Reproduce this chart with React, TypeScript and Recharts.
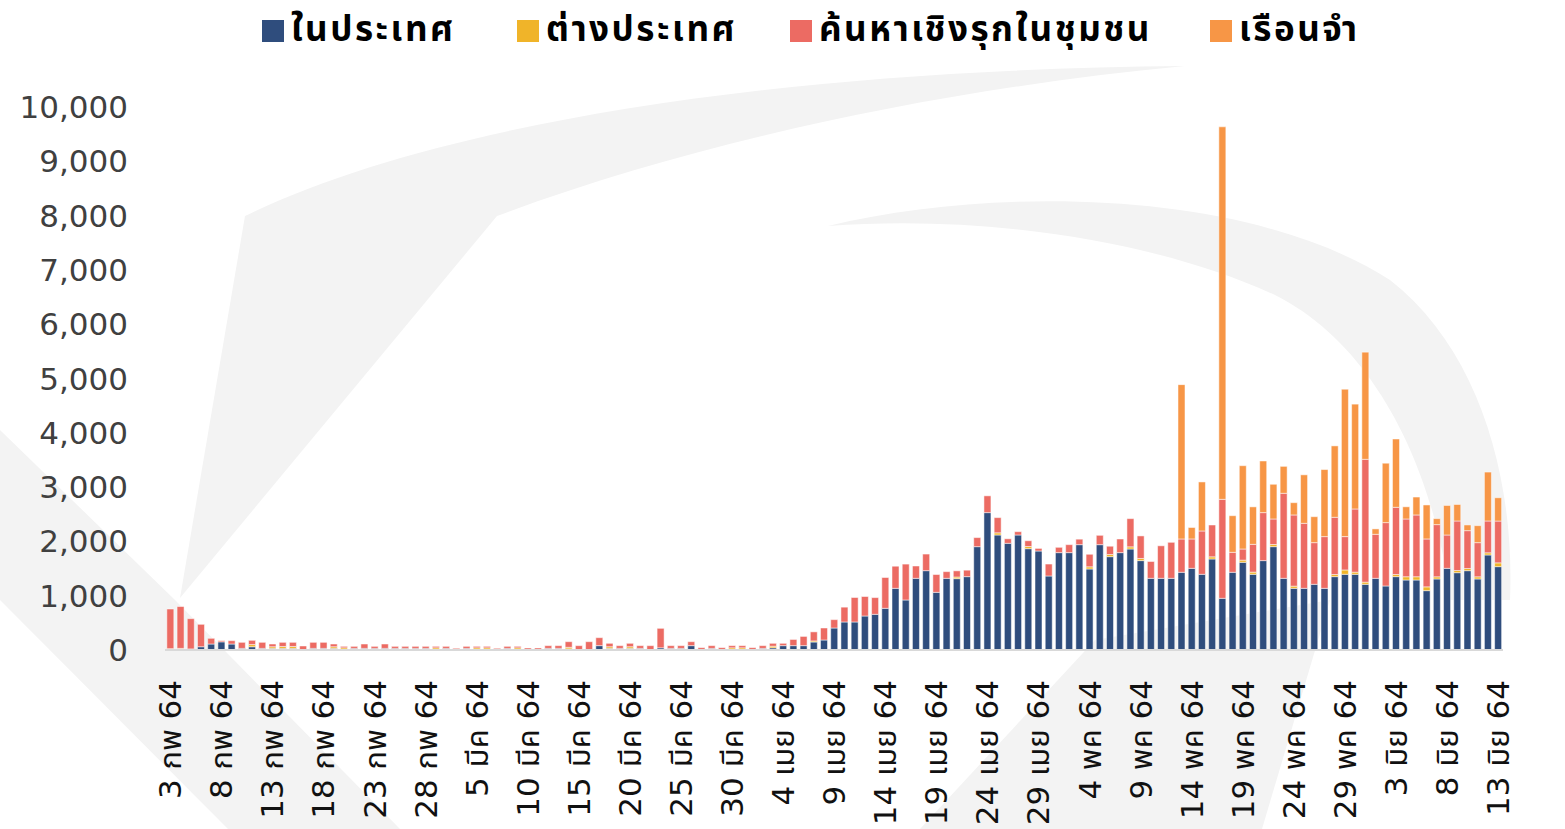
import { Bar, BarChart, LabelList, XAxis, YAxis } from "recharts";

const FONT = "Tahoma, 'DejaVu Sans', 'Noto Sans Thai', 'Noto Sans', sans-serif";

const MONTHS = [
  { name: "กพ", first: 3, last: 28 },
  { name: "มีค", first: 1, last: 31 },
  { name: "เมย", first: 1, last: 30 },
  { name: "พค", first: 1, last: 31 },
  { name: "มิย", first: 1, last: 13 },
];

const DATES = MONTHS.flatMap((m) =>
  Array.from({ length: m.last - m.first + 1 }, (_, k) => `${m.first + k} ${m.name} 64`)
);

const Y_TICKS = [0, 1000, 2000, 3000, 4000, 5000, 6000, 7000, 8000, 9000, 10000];

// ในประเทศ
const DOMESTIC = [
  10, 20, 20, 60, 110, 150, 110, 30, 60, 30, 30, 30, 30, 5, 30, 30, 30, 0, 30, 30, 30, 30, 30, 30, 30, 30,
  0, 30, 0, 30, 0, 0, 0, 30, 0, 0, 0, 30, 30, 20, 0, 0, 80, 30, 30, 30, 30, 0, 40, 30, 30, 80, 0, 30, 0, 0, 0,
  0, 30, 40, 80, 80, 80, 147, 184, 405, 516, 516, 626, 657, 768, 1136, 921, 1320, 1461, 1062, 1320, 1314, 1351,
  1903, 2530, 2118, 1965, 2118, 1866, 1823, 1363,
  1793, 1793, 1940, 1492, 1940, 1719, 1793, 1860, 1646, 1320, 1320, 1320, 1431, 1504, 1394, 1676, 952, 1431,
  1615, 1394, 1646, 1903, 1320, 1136, 1136, 1210, 1136, 1351, 1394, 1394, 1210,
  1320, 1179, 1351, 1289, 1289, 1093, 1308, 1504, 1424, 1461, 1308, 1750, 1535,
];

// ต่างประเทศ
const IMPORTED = [
  15, 10, 0, 0, 0, 0, 0, 0, 40, 0, 30, 35, 35, 0, 0, 0, 30, 40, 0, 0, 0, 0, 0, 0, 0, 0,
  40, 0, 0, 0, 40, 40, 0, 0, 40, 0, 0, 0, 0, 30, 0, 0, 0, 30, 0, 30, 0, 0, 0, 0, 0, 0, 0, 0, 0, 40, 40,
  0, 0, 30, 0, 0, 0, 20, 0, 0, 0, 0, 0, 0, 0, 0, 0, 0, 0, 0, 0, 30, 0,
  0, 0, 40, 0, 0, 40, 0, 0,
  0, 0, 0, 40, 0, 40, 0, 40, 40, 0, 0, 0, 0, 0, 0, 40, 0, 0,
  40, 40, 0, 40, 0, 40, 0, 0, 0, 40, 80, 40, 40,
  0, 0, 40, 60, 60, 70, 40, 0, 40, 40, 40, 40, 70,
];

// ค้นหาเชิงรุกในชุมชน
const ACTIVE_SEARCH = [
  730, 770, 557, 413, 105, 22, 62, 111, 78, 111, 50, 76, 76, 69, 111, 111, 50, 27, 37, 80, 37, 80, 37, 37, 37, 37,
  27, 37, 31, 37, 27, 27, 31, 37, 27, 37, 37, 50, 50, 103, 80, 153, 147, 63, 50, 63, 50, 80, 359, 50, 50, 73, 43, 50, 43, 40, 40,
  43, 50, 53, 43, 114, 170, 167, 221, 154, 273, 451, 359, 308, 567, 407, 661, 227, 306, 328, 123, 114, 119,
  167, 309, 280, 83, 61, 106, 48, 220,
  98, 147, 101, 231, 172, 152, 251, 519, 415, 310, 599, 663, 614, 541, 798, 586, 1823, 368,
  205, 512, 884, 470, 1566, 1311, 1197, 767, 952, 1053, 614, 1163, 2262,
  811, 1167, 1237, 1064, 1138, 882, 961, 614, 912, 697, 629, 586, 770,
];

// เรือนจำ
const PRISON = [
  ...Array(99).fill(0),
  2842, 211, 903, 0, 6860, 674, 1534, 690, 951, 639, 496, 226, 893, 478, 1235, 1315, 2715, 1931, 1973,
  99, 1094, 1258, 224, 330, 626, 110, 544, 304, 105, 313, 901, 429,
];

const SERIES = [
  { key: "domestic", name: "ในประเทศ", color: "#2f4d7d", values: DOMESTIC },
  { key: "imported", name: "ต่างประเทศ", color: "#f0b429", values: IMPORTED },
  { key: "search", name: "ค้นหาเชิงรุกในชุมชน", color: "#ec6b63", values: ACTIVE_SEARCH },
  { key: "prison", name: "เรือนจำ", color: "#f79646", values: PRISON },
];

const LEGEND_X = [262, 517, 790, 1210];

const data = DATES.map((date, i) => {
  const row: Record<string, string | number> = { date };
  SERIES.forEach((s) => {
    row[s.key] = s.values[i];
  });
  return row;
});

const LAST = DATES.length - 1;
const lastTotal = SERIES.reduce((sum, s) => sum + s.values[LAST], 0);

function DateTick({ x, y, payload }: any) {
  return (
    <g transform={`translate(${x},${y})`}>
      <text
        transform="rotate(-90)"
        x={-22}
        y={0}
        dy="0.36em"
        textAnchor="end"
        fontSize={31}
        fontFamily={FONT}
        fill="#111"
      >
        {payload.value}
      </text>
    </g>
  );
}

function TotalLabel(props: any) {
  const { x, y, width, index } = props;
  if (index !== LAST) return null;
  const cx = Number(x) + Number(width) / 2 + 18;
  return (
    <g fontFamily={FONT} fontSize={28} fill="#333" textAnchor="middle">
      <text x={cx} y={Number(y) - 71}>
        {lastTotal.toLocaleString("en-US")}
      </text>
      <text x={cx} y={Number(y) - 31}>
        ราย
      </text>
    </g>
  );
}

function Watermark() {
  return (
    <svg width={1565} height={829} style={{ position: "absolute", left: 0, top: 0 }}>
      <g fill="#f3f3f3">
        <path d="M 245 216 C 420 130 750 70 1185 66 C 950 88 700 140 497 216 Z" />
        <path d="M 245 216 L 497 216 L 180 598 Z" />
        <path d="M 828 226 C 1000 185 1250 190 1390 280 C 1480 350 1515 480 1510 600 L 1450 600 C 1435 470 1375 345 1275 295 C 1150 238 980 215 828 226 Z" />
        <path d="M 0 430 L 175 600 L 400 829 L 228 829 L 0 600 Z" />
        <path d="M 920 829 L 1095 640 L 1330 600 L 1262 829 Z" />
      </g>
    </svg>
  );
}

export default function App() {
  return (
    <div
      style={{
        position: "absolute",
        left: 0,
        top: 0,
        width: 1565,
        height: 829,
        background: "#fff",
        fontFamily: FONT,
        overflow: "hidden",
      }}
    >
      <Watermark />

      {/* legend */}
      {SERIES.map((s, i) => (
        <div
          key={s.key}
          style={{
            position: "absolute",
            left: LEGEND_X[i],
            top: 4,
            display: "flex",
            alignItems: "center",
            gap: 7,
            fontSize: 35,
            fontWeight: 700,
            letterSpacing: 2.5,
            color: "#000",
            whiteSpace: "nowrap",
          }}
        >
          <span style={{ display: "inline-block", width: 22, height: 22, background: s.color }} />
          <span>{s.name}</span>
        </div>
      ))}

      <div style={{ position: "absolute", left: 0, top: 0 }}>
        <BarChart
          width={1565}
          height={829}
          data={data}
          margin={{ top: 107, right: 62, bottom: 0, left: 0 }}
          barCategoryGap="18%"
        >
          <XAxis
            dataKey="date"
            interval={4}
            height={179}
            tickLine={false}
            axisLine={{ stroke: "#d9d9d9", strokeWidth: 2 }}
            tick={<DateTick />}
          />
          <YAxis
            type="number"
            domain={[0, 10000]}
            ticks={Y_TICKS}
            width={165}
            tickSize={0}
            tickMargin={37}
            axisLine={false}
            tickLine={false}
            tickFormatter={(v: number) => v.toLocaleString("en-US")}
            tick={{ fontSize: 31, fill: "#404040", fontFamily: FONT }}
          />
          {SERIES.map((s) => (
            <Bar
              key={s.key}
              dataKey={s.key}
              name={s.name}
              stackId="cases"
              fill={s.color}
              stroke="#ffffff"
              strokeWidth={0.5}
              isAnimationActive={false}
            >
              {s.key === "prison" && <LabelList dataKey="prison" content={<TotalLabel />} />}
            </Bar>
          ))}
        </BarChart>
      </div>
    </div>
  );
}
